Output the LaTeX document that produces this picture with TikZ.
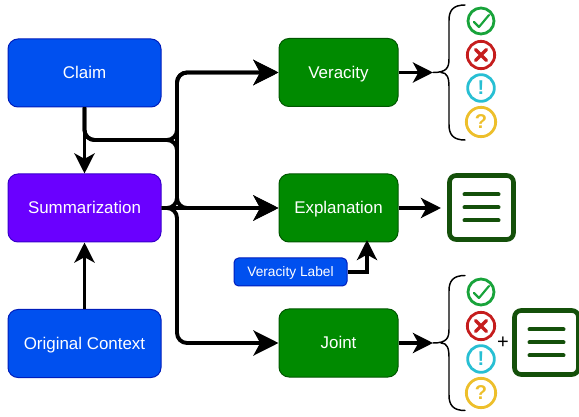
\documentclass[tikz,border=0pt]{standalone}
\usepackage{fontspec}
\setmainfont{Liberation Sans}
\usetikzlibrary{arrows.meta,calc}
\definecolor{bluefill}{HTML}{0050EF}
\definecolor{blueline}{HTML}{001DBC}
\definecolor{purplefill}{HTML}{6A00FF}
\definecolor{purpleline}{HTML}{3700CC}
\definecolor{greenfill}{HTML}{008A00}
\definecolor{greenline}{HTML}{005700}
\definecolor{docgreen}{HTML}{14500A}
\definecolor{okgreen}{HTML}{18A33A}
\definecolor{badred}{HTML}{C51D1D}
\definecolor{warncyan}{HTML}{28BFD3}
\definecolor{askyellow}{HTML}{EDBF2B}
\tikzset{
  x=0.75pt,y=-0.75pt,
  boxbase/.style={rounded corners=7.5pt,draw,line width=0.75pt,text=white,inner sep=0pt,text height=9pt,text depth=0pt,font=\fontsize{12.7}{15}\selectfont},
  bluebox/.style={boxbase,fill=bluefill,draw=blueline,minimum width=114.75pt,minimum height=51pt},
  purplebox/.style={boxbase,fill=purplefill,draw=purpleline,minimum width=114.75pt,minimum height=51pt},
  greenbox/.style={boxbase,fill=greenfill,draw=greenline,minimum width=89.25pt,minimum height=51pt},
  smallbox/.style={boxbase,rounded corners=3.5pt,fill=bluefill,draw=blueline,minimum width=84.75pt,minimum height=21pt,text height=7.4pt,text depth=0pt,font=\fontsize{10.3}{12}\selectfont},
  bigarrow/.style={line width=2.9pt,rounded corners=7.5pt,-{Stealth[length=18.75pt,width=18.75pt,inset=5pt]}},
  midarrow/.style={line width=2.9pt,rounded corners=7.5pt,-{Stealth[length=15pt,width=15pt,inset=4pt]}},
  smallarrow/.style={line width=2.9pt,-{Stealth[length=15pt,width=15pt,inset=4pt]}},
  bracepath/.style={line width=1.1pt,line cap=round},
  iconbase/.style={circle,draw,line width=2.1pt,inner sep=0pt,font=\bfseries\fontsize{15}{15}\selectfont},
  okicon/.style={iconbase,draw=okgreen,minimum size=19.5pt},
  badicon/.style={iconbase,draw=badred,minimum size=20.5pt},
  warnicon/.style={iconbase,draw=warncyan,text=warncyan,minimum size=20pt},
  askicon/.style={iconbase,draw=askyellow,text=askyellow,minimum size=22pt},
  docbox/.style={draw=docgreen,line width=3.5pt,rounded corners=5pt,fill=white,minimum width=48pt,minimum height=48pt,inner sep=0pt},
  docline/.style={draw=docgreen,line width=3pt,line cap=round},
  plain/.style={inner sep=0pt,font=\fontsize{15}{15}\selectfont},
}
\newcommand{\mybrace}[2]{%
  \draw[bracepath] (#1,#2-67.5) .. controls (#1-12,#2-67.5) and (#1-16,#2-62) .. (#1-16,#2-52)
    -- (#1-16,#2-14) .. controls (#1-16,#2-5) and (#1-18,#2) .. (#1-32,#2)
    (#1-24,#2) .. controls (#1-18,#2) and (#1-16,#2+5) .. (#1-16,#2+14)
    -- (#1-16,#2+52) .. controls (#1-16,#2+62) and (#1-12,#2+67.5) .. (#1,#2+67.5);}
\newcommand{\mycheck}[1]{\draw[okgreen,line width=1.6pt,line cap=round,line join=round] ($(#1)+(-7,1)$) -- ($(#1)+(-2,6)$) -- ($(#1)+(8,-6)$);}
\newcommand{\mycross}[1]{\draw[badred,line width=2.5pt,line cap=round] ($(#1)+(-5.5,-5.5)$) -- ($(#1)+(5.5,5.5)$) ($(#1)+(-5.5,5.5)$) -- ($(#1)+(5.5,-5.5)$);}
\newcommand{\mylines}[1]{\draw[docline] ($(#1)+(-17,-13)$) -- ($(#1)+(17,-13)$) ($(#1)+(-17,0)$) -- ($(#1)+(17,0)$) ($(#1)+(-17,13)$) -- ($(#1)+(17,13)$);}
\begin{document}
\begin{tikzpicture}
\useasboundingbox (0,0) rectangle (579,417);
\node[bluebox] (claim) at (84.5,73) {Claim};
\node[purplebox] (summ) at (84.5,208) {Summarization};
\node[bluebox] (orig) at (84.5,343.5) {Original Context};
\node[greenbox] (ver) at (338.5,72.5) {Veracity};
\node[greenbox] (expl) at (338.5,208) {Explanation};
\node[greenbox] (joint) at (338.5,343) {Joint};
\node[smallbox] (label) at (290.5,272) {Veracity Label};
\coordinate (busa) at (177,140);
\coordinate (busb) at (177,208);
\coordinate (labelup) at (367,240);
\coordinate (bracea) at (433,72);
\coordinate (docin) at (441,208);
% connectors
\draw[midarrow] (claim.south) -- (summ.north);
\draw[midarrow] (orig.north) -- (summ.south);
\draw[bigarrow] (claim.south) |- (busa) -- (busa |- ver.west) -- (ver.west);
\draw[bigarrow] (claim.south) |- (busa) -- (busb) -- (expl.west);
\draw[bigarrow] (summ.east) -- (busb) -- (busb |- ver.west) -- (ver.west);
\draw[bigarrow] (summ.east) -- (busb) -- (busb |- joint.west) -- (joint.west);
\draw[bigarrow] (summ.east) -- (expl.west);
\draw[smallarrow] (label.east) -| (labelup);
% top group
\draw[smallarrow] (ver.east) -- (bracea |- ver.east);
\mybrace{465}{72.5}
\node[okicon] (ia) at (481,21) {};
\node[badicon] (ib) at (481,55) {};
\node[warnicon] (ic) at (481,88) {!};
\node[askicon] (id) at (481,122) {?};
\mycheck{ia}
\mycross{ib}
% doc
\node[docbox] (doca) at (481.5,207.5) {};
\mylines{doca}
\draw[smallarrow] (expl.east) -- (docin);
% bottom group
\draw[smallarrow] (joint.east) -- (joint.east -| bracea);
\mybrace{465}{343}
\node[okicon] (ja) at (481,292) {};
\node[badicon] (jb) at (481,326) {};
\node[warnicon] (jc) at (481,359) {!};
\node[askicon] (jd) at (481,393) {?};
\mycheck{ja}
\mycross{jb}
\node[plain] (plus) at (503,342.5) {+};
\node[docbox] (docb) at (546.5,342.5) {};
\mylines{docb}
\end{tikzpicture}
\end{document}
